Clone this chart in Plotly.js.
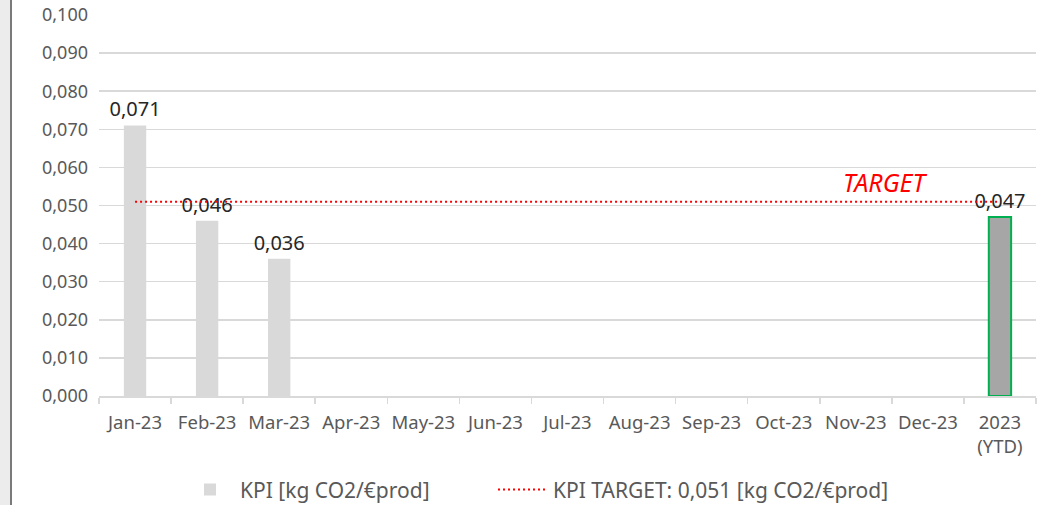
<!DOCTYPE html>
<html>
<head>
<meta charset="utf-8">
<script src="https://cdn.plot.ly/plotly-3.0.1.min.js"></script>
<style>
  html, body { margin:0; padding:0; background:#fff; }
  #wrap { position:relative; width:1047px; height:505px; overflow:hidden; }
  #strip { position:absolute; left:0; top:0; width:10px; height:505px; background:#ececec; border-right:2px solid #7a7a7a; z-index:5; }
  #chart { position:absolute; left:0; top:0; width:1047px; height:505px; }
</style>
</head>
<body>
<div id="wrap"><div id="strip"></div><div id="chart"></div></div>
<script>
const categories = ["Jan-23","Feb-23","Mar-23","Apr-23","May-23","Jun-23","Jul-23","Aug-23","Sep-23","Oct-23","Nov-23","Dec-23","2023<br>(YTD)"];
const kpiValues = [0.071, 0.046, 0.036, null, null, null, null, null, null, null, null, null, 0.047];
const targetValue = 0.051;
const targetValues = categories.map(() => targetValue);
const kpiName = "KPI [kg CO2/€prod]";
const targetName = "KPI TARGET: 0,051 [kg CO2/€prod]";
const yTicks = [0, 0.01, 0.02, 0.03, 0.04, 0.05, 0.06, 0.07, 0.08, 0.09, 0.1];

const barColors = categories.map((c, i) => i === categories.length - 1 ? "#a6a6a6" : "#d9d9d9");
const barLineColors = categories.map((c, i) => i === categories.length - 1 ? "#00b050" : "rgba(0,0,0,0)");
const barLineWidths = categories.map((c, i) => i === categories.length - 1 ? 2 : 0);

const FONT = "Noto Sans, Open Sans, sans-serif";

const kpiTrace = {
  type: "bar",
  name: kpiName,
  legend: "legend",
  x: categories,
  y: kpiValues,
  width: 0.31,
  marker: { color: barColors, line: { color: barLineColors, width: barLineWidths } },
  texttemplate: "%{y:.3f}",
  textposition: "outside",
  constraintext: "none",
  cliponaxis: false,
  textfont: { family: FONT, size: 20, color: "#262626" },
  hoverinfo: "skip"
};

const targetTrace = {
  type: "scatter",
  mode: "lines",
  name: targetName,
  legend: "legend2",
  x: categories,
  y: targetValues,
  line: { color: "#ff0000", width: 2, dash: "2px,3px" },
  hoverinfo: "skip"
};

const legendBase = {
  orientation: "h",
  xref: "container",
  yref: "container",
  xanchor: "left",
  y: 0.03,
  yanchor: "middle",
  font: { family: FONT, size: 21, color: "#595959" },
  itemwidth: 50
};

const layout = {
  width: 1047,
  height: 505,
  margin: { l: 99, r: 11, t: 15, b: 109, autoexpand: false },
  paper_bgcolor: "#ffffff",
  plot_bgcolor: "#ffffff",
  separators: ",.",
  showlegend: true,
  font: { family: FONT, color: "#595959", size: 18 },
  xaxis: {
    type: "category",
    tickson: "boundaries",
    ticks: "outside",
    ticklen: 6,
    tickcolor: "#d9d9d9",
    tickwidth: 1.5,
    tickangle: 0,
    ticklabelstandoff: 9,
    showline: true,
    linecolor: "#d9d9d9",
    linewidth: 1.5,
    showgrid: false,
    automargin: false,
    tickfont: { family: FONT, size: 18.5, color: "#595959" },
    fixedrange: true
  },
  yaxis: {
    range: [0, 0.1],
    tickvals: yTicks,
    tickformat: ".3f",
    showgrid: true,
    gridcolor: "#d9d9d9",
    gridwidth: 1.5,
    zeroline: false,
    showline: false,
    ticks: "",
    ticklabelstandoff: 10,
    automargin: false,
    tickfont: { family: FONT, size: 18, color: "#595959" },
    fixedrange: true
  },
  legend: Object.assign({}, legendBase, { x: 180 / 1047 }),
  legend2: Object.assign({}, legendBase, { x: 493 / 1047 }),
  annotations: [{
    xref: "x", yref: "y",
    x: 10.4, y: 0.0562,
    text: "<i>TARGET</i>",
    showarrow: false,
    font: { family: FONT, size: 25, color: "#ff0000" }
  }],
  bargap: 0.69
};

Plotly.newPlot("chart", [kpiTrace, targetTrace], layout, { displayModeBar: false, staticPlot: true });
</script>
</body>
</html>
